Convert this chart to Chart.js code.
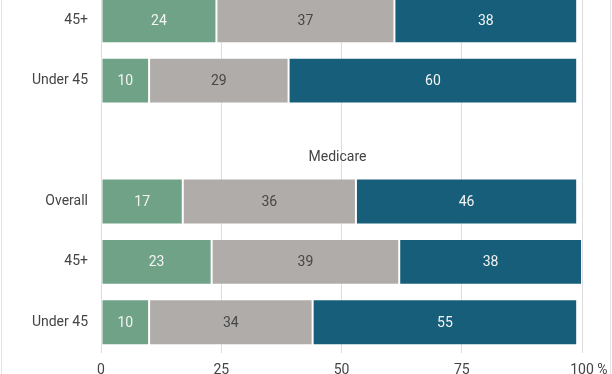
<!DOCTYPE html>
<html>
<head>
<meta charset="utf-8">
<script src="https://cdn.jsdelivr.net/npm/chart.js@4"></script>
<style>
  html, body { margin: 0; padding: 0; background: #fff; }
  body { width: 612px; height: 374px; overflow: hidden; position: relative; }
  #wrap { position: absolute; left: 0; top: -10px; width: 612px; height: 400px; }
  .edge { position: absolute; top: 0; width: 1px; height: 374px; background: #e4e4e4; }
</style>
</head>
<body>
<div class="edge" style="left:1px"></div>
<div class="edge" style="left:610px"></div>
<div id="wrap"><canvas id="chart"></canvas></div>
<script>
// rows as they appear (third row is the "Medicare" group header)
const categories = ['45+', 'Under 45', '', 'Overall', '45+', 'Under 45'];
const groupTitle = 'Medicare';
const groupRow = 2;

const firstShare = [24, 10, null, 17, 23, 10];
const secondShare = [37, 29, null, 36, 39, 34];
const thirdShare = [38, 60, null, 46, 38, 55];

const xTicks = [0, 25, 50, 75, 100];

const colors = ['#6fa287', '#b0acaa', '#175e7b'];
const labelColors = ['#f4f4f4', '#474747', '#f4f4f4'];

Chart.defaults.font.family = 'Roboto';
Chart.defaults.font.size = 14;
Chart.defaults.color = '#444';

// value labels inside each segment + the group header + the % unit
const extras = {
    id: 'extras',
    afterDatasetsDraw(chart) {
        const ctx = chart.ctx;
        ctx.save();
        ctx.font = '14px Roboto';
        ctx.textAlign = 'center';
        ctx.textBaseline = 'middle';
        chart.data.datasets.forEach((ds, i) => {
            chart.getDatasetMeta(i).data.forEach((bar, j) => {
                if (ds.data[j] == null) return;
                ctx.fillStyle = labelColors[i];
                ctx.fillText(ds.data[j], (bar.x + bar.base) / 2, bar.y + 1);
            });
        });
        const ys = chart.scales.y;
        ctx.fillStyle = '#444';
        ctx.fillText(groupTitle, (chart.chartArea.left + chart.chartArea.right) / 2 - 4,
            ys.getPixelForValue(groupRow) + 16.5);
        ctx.restore();
    },
    afterDraw(chart) {
        const xs = chart.scales.x;
        const items = xs.getLabelItems();
        const last = items.find(it => it.label === '100');
        if (!last) return;
        const ctx = chart.ctx;
        ctx.save();
        ctx.font = '14px Roboto';
        ctx.fillStyle = '#444';
        const o = last.options;
        ctx.translate(o.translation[0], o.translation[1]);
        ctx.textBaseline = o.textBaseline;
        ctx.textAlign = 'left';
        ctx.fillText(' %', ctx.measureText('100').width / 2, last.textOffset);
        ctx.restore();
    }
};

const makeSet = (label, data, i) => ({
    label: label,
    data: data,
    backgroundColor: colors[i],
    borderColor: 'rgba(255,255,255,0.35)',
    borderWidth: 1,
    borderSkipped: false,
    categoryPercentage: 1,
    barPercentage: 0.76
});

new Chart(document.getElementById('chart').getContext('2d'), {
    type: 'bar',
    data: {
        labels: categories,
        datasets: [
            makeSet('First', firstShare, 0),
            makeSet('Second', secondShare, 1),
            makeSet('Third', thirdShare, 2)
        ]
    },
    options: {
        indexAxis: 'y',
        responsive: true,
        maintainAspectRatio: false,
        animation: false,
        layout: { padding: { left: 0, right: 30, top: 0, bottom: 0 } },
        plugins: { legend: { display: false }, tooltip: { enabled: false } },
        scales: {
            x: {
                stacked: true,
                min: 0,
                max: 100,
                afterBuildTicks: s => { s.ticks = xTicks.map(v => ({ value: v })); },
                ticks: { padding: 10, color: '#444', callback: v => String(v) },
                grid: { color: '#dddddd', drawTicks: false },
                border: { display: false },
                afterFit: s => { s.height = 37.5; }
            },
            y: {
                stacked: true,
                afterFit: s => { s.width = 101; s.paddingTop = 0; s.paddingBottom = 0; },
                ticks: { padding: 13, color: '#444' },
                grid: { display: false, drawTicks: false },
                border: { display: false }
            }
        }
    },
    plugins: [extras]
});
</script>
</body>
</html>
